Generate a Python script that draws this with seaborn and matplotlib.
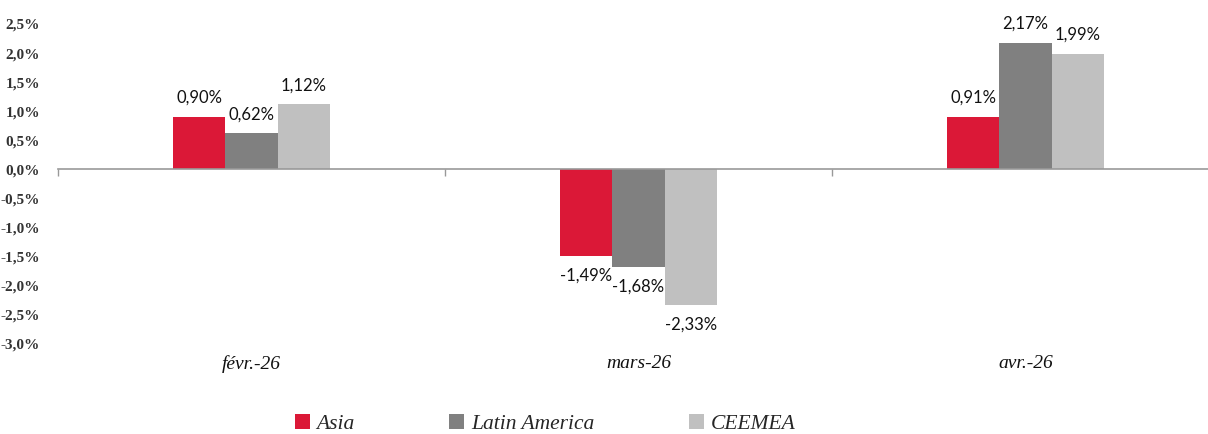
import matplotlib
matplotlib.use("Agg")
import matplotlib.pyplot as plt
import seaborn as sns
import pandas as pd
from matplotlib.patches import Patch

categories = ["févr.-26", "mars-26", "avr.-26"]
series = ["Asia", "Latin America", "CEEMEA"]
asia = [0.90, -1.49, 0.91]
latam = [0.62, -1.68, 2.17]
ceemea = [1.12, -2.33, 1.99]
colors = ["#DB1837", "#808080", "#C0C0C0"]
yticks = [2.5, 2.0, 1.5, 1.0, 0.5, 0.0, -0.5, -1.0, -1.5, -2.0, -2.5, -3.0]

rows = []
for name, vals in zip(series, [asia, latam, ceemea]):
    for c, v in zip(categories, vals):
        rows.append({"cat": c, "series": name, "value": v})
df = pd.DataFrame(rows)

sns.set_theme(style="white")
fig = plt.figure(figsize=(12.08, 4.34), dpi=100)
ax = fig.add_axes([58/1208, 1-344/434, 1161/1208, (344-24)/434])

sns.barplot(data=df, x="cat", y="value", hue="series", order=categories,
            hue_order=series, palette=colors, width=0.405, saturation=1,
            edgecolor="none", legend=False, ax=ax)

ax.set_ylim(-3.0, 2.5)
ax.set_xlim(-0.5, 2.5)
ax.set_yticks(yticks)
ax.set_yticklabels([f"{t:.1f}%".replace(".", ",") for t in yticks],
                   fontfamily="Liberation Serif", fontweight="bold",
                   fontsize=11, color="#333333")
ax.tick_params(axis="y", length=0, pad=13)
for s in ["left", "right", "top"]:
    ax.spines[s].set_visible(False)
ax.spines["bottom"].set_position(("data", 0))
ax.spines["bottom"].set_color("#999999")
ax.spines["bottom"].set_linewidth(1.2)
ax.set_xticks([0, 1, 2])
ax.set_xticklabels([])
ax.tick_params(axis="x", which="major", length=0)
ax.set_xticks([-0.5, 0.5, 1.5, 2.5], minor=True)
ax.tick_params(axis="x", which="minor", length=5, width=1, color="#999999",
               direction="out", bottom=True)
ax.set_xlabel("")
ax.set_ylabel("")

sec = ax.secondary_xaxis("bottom")
sec.set_xticks([0, 1, 2])
sec.set_xticklabels(categories, fontfamily="Liberation Serif", style="italic",
                    fontsize=14, color="#111111")
sec.tick_params(length=0, pad=8)
sec.spines["bottom"].set_visible(False)

for cont, vals in zip(ax.containers, [asia, latam, ceemea]):
    labels = [f"{v:.2f}%".replace(".", ",") for v in vals]
    ax.bar_label(cont, labels=labels, padding=8, fontsize=12,
                 fontfamily="Lato", color="#111111")

handles = [Patch(facecolor=c, edgecolor="none") for c in colors]
fig.legend(handles, series, loc="center", bbox_to_anchor=(545/1208, 1-424/434),
           ncol=3, frameon=False, handlelength=0.7, handleheight=0.7,
           handletextpad=0.3, columnspacing=4.4,
           prop={"family": "Liberation Serif", "style": "italic", "size": 15.5})

fig.savefig("out.png", dpi=100)
